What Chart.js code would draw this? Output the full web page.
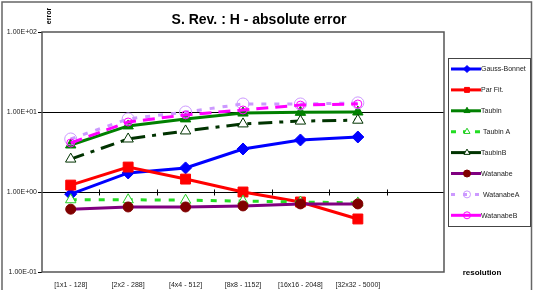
<!DOCTYPE html>
<html>
<head>
<meta charset="utf-8">
<script src="https://cdn.jsdelivr.net/npm/chart.js@4"></script>
<style>
  html, body { margin: 0; padding: 0; background: #fff; }
  #wrap { width: 535px; height: 290px; }
</style>
</head>
<body>
<div id="wrap"><canvas id="errChart" width="535" height="290"></canvas></div>
<script>
// categories (last one is an empty slot, as in the original sheet)
const resolutions = ['[1x1 - 128]', '[2x2 - 288]', '[4x4 - 512]', '[8x8 - 1152]', '[16x16 - 2048]', '[32x32 - 5000]', ''];

// absolute error per method
const gaussBonnet = [0.94, 1.73, 2.0, 3.45, 4.47, 4.87, null];
const parFit      = [1.22, 2.05, 1.45, 1.0, 0.75, 0.46, null];
const taubin      = [3.87, 6.7, 8.2, 9.7, 9.9, 10.0, null];
const taubinA     = [0.8, 0.8, 0.79, 0.77, 0.75, 0.73, null];
const taubinB     = [2.58, 4.6, 5.8, 7.1, 7.7, 7.9, null];
const watanabe    = [0.61, 0.65, 0.65, 0.67, 0.71, 0.71, null];
const watanabeA   = [4.6, 8.2, 10.0, 12.6, 12.6, 13.0, null];
const watanabeB   = [4.1, 7.5, 9.2, 10.6, 12.2, 12.6, null];

const yTicks = [0.1, 1, 10, 100];

function sci(v) {
  const e = Math.round(Math.log10(v));
  const m = v / Math.pow(10, e);
  const sign = e < 0 ? '-' : '+';
  return m.toFixed(2) + 'E' + sign + String(Math.abs(e)).padStart(2, '0');
}

const ctx = document.getElementById('errChart').getContext('2d');

const frame = {
  id: 'frame',
  beforeDatasetsDraw(chart) {
    const {ctx, chartArea: {left, top, right, bottom}, scales: {x, y}} = chart;
    ctx.save();
    // gridlines at 10 and 1
    ctx.strokeStyle = '#000';
    ctx.lineWidth = 1;
    [10, 1].forEach(v => {
      const py = Math.round(y.getPixelForValue(v)) + 0.5;
      ctx.beginPath();
      ctx.moveTo(left, py);
      ctx.lineTo(right, py);
      ctx.stroke();
    });
    // category tick marks on the x axis crossing (y = 1)
    const py1 = Math.round(y.getPixelForValue(1)) + 0.5;
    for (let i = 1; i < resolutions.length; i++) {
      const px = Math.round((x.getPixelForValue(i - 1) + x.getPixelForValue(i)) / 2) + 0.5;
      ctx.beginPath();
      ctx.moveTo(px, py1 - 3);
      ctx.lineTo(px, py1 + 3);
      ctx.stroke();
    }
    // y tick marks
    yTicks.forEach(v => {
      const py = Math.round(y.getPixelForValue(v)) + 0.5;
      ctx.beginPath();
      ctx.moveTo(left - 4, py);
      ctx.lineTo(left, py);
      ctx.stroke();
    });
    // plot area frame
    ctx.strokeStyle = '#555';
    ctx.lineWidth = 1.5;
    ctx.strokeRect(left, top, right - left, bottom - top);
    ctx.restore();
  },
  afterDraw(chart) {
    const {ctx} = chart;
    ctx.save();
    // outer border
    ctx.strokeStyle = '#666';
    ctx.lineWidth = 1.5;
    ctx.strokeRect(2, 2, 529.5, 292);
    // title
    ctx.fillStyle = '#000';
    ctx.textAlign = 'center';
    ctx.textBaseline = 'middle';
    ctx.font = 'bold 14px "Liberation Sans", Arial, sans-serif';
    ctx.fillText('S. Rev. : H - absolute error', 259, 20);
    // y axis title (rotated)
    ctx.save();
    ctx.translate(49, 16);
    ctx.rotate(-Math.PI / 2);
    ctx.font = 'bold 7px "Liberation Sans", Arial, sans-serif';
    ctx.fillText('error', 0, 0);
    ctx.restore();
    // x axis title
    ctx.font = 'bold 8px "Liberation Sans", Arial, sans-serif';
    ctx.fillText('resolution', 482, 273);
    // legend
    const lx = 448, ly = 58, lw = 82, lh = 168;
    ctx.fillStyle = '#fff';
    ctx.fillRect(lx, ly, lw, lh);
    ctx.strokeStyle = '#444';
    ctx.lineWidth = 1;
    ctx.strokeRect(lx + 0.5, ly + 0.5, lw, lh);
    chart.data.datasets.forEach((ds, i) => {
      const cy = 69 + i * 20.9;
      ctx.save();
      ctx.strokeStyle = ds.borderColor;
      ctx.lineWidth = 3;
      ctx.setLineDash(ds.legendDash || []);
      ctx.beginPath();
      ctx.moveTo(451, cy);
      ctx.lineTo(481, cy);
      ctx.stroke();
      ctx.restore();
      ctx.save();
      ctx.fillStyle = ds.pointBackgroundColor;
      ctx.strokeStyle = ds.pointBorderColor;
      ctx.lineWidth = 1;
      ctx.setLineDash([]);
      Chart.helpers.drawPoint(ctx, {
        pointStyle: ds.pointStyle,
        radius: Math.min(ds.pointRadius, 3.5),
        borderWidth: 1
      }, 467, cy);
      ctx.restore();
      ctx.fillStyle = '#222';
      ctx.textAlign = 'left';
      ctx.font = '7px "Liberation Sans", Arial, sans-serif';
      ctx.fillText(ds.label, ds.legendIndent ? 483 : 481, cy + 0.5);
    });
    ctx.restore();
  }
};

function series(label, data, color, opts) {
  return Object.assign({
    label: label,
    data: data,
    borderColor: color,
    backgroundColor: color,
    borderWidth: 3,
    pointRadius: 5,
    pointBorderWidth: 1,
    tension: 0,
    spanGaps: false,
    fill: false
  }, opts);
}

new Chart(ctx, {
  type: 'line',
  data: {
    labels: resolutions,
    datasets: [
      series('Gauss-Bonnet', gaussBonnet, '#0000ff', {pointStyle: 'rectRot', pointRadius: 6, pointBackgroundColor: '#0000ff', pointBorderColor: '#0000ff', order: 8}),
      series('Par Fit.', parFit, '#ff0000', {pointStyle: 'rect', pointRadius: 7, pointBackgroundColor: '#ff0000', pointBorderColor: '#ff0000', order: 7}),
      series('Taubin', taubin, '#008000', {pointStyle: 'triangle', pointRadius: 6, pointBackgroundColor: '#008000', pointBorderColor: '#008000', order: 6}),
      series('Taubin A', taubinA, '#22dd22', {pointStyle: 'triangle', pointRadius: 6, pointBackgroundColor: '#ffffff', pointBorderColor: '#22cc22', borderDash: [6, 8], legendDash: [5, 7], legendIndent: true, order: 5}),
      series('TaubinB', taubinB, '#003300', {pointStyle: 'triangle', pointRadius: 6, pointBackgroundColor: '#ffffff', pointBorderColor: '#003300', borderDash: [14, 7, 4, 7], order: 4}),
      series('Watanabe', watanabe, '#800080', {pointStyle: 'circle', pointRadius: 5, pointBackgroundColor: '#800000', pointBorderColor: '#800000', order: 3}),
      series('WatanabeA', watanabeA, '#cc99ff', {pointStyle: 'circle', pointRadius: 6, pointBackgroundColor: 'rgba(255,255,255,0)', pointBorderColor: '#cc99ff', borderDash: [5, 8], legendDash: [4, 8], legendIndent: true, order: 2}),
      series('WatanabeB', watanabeB, '#ff00ff', {pointStyle: 'circle', pointRadius: 4, pointBackgroundColor: 'rgba(255,255,255,0)', pointBorderColor: '#ff00ff', borderDash: [12, 7], order: 1})
    ]
  },
  options: {
    responsive: false,
    animation: false,
    events: [],
    layout: {
      padding: {left: 0, right: 91, top: 32, bottom: 0}
    },
    plugins: {
      legend: {display: false},
      title: {display: false},
      tooltip: {enabled: false}
    },
    scales: {
      x: {
        type: 'category',
        offset: true,
        grid: {display: false, drawTicks: false},
        border: {display: false},
        afterFit(scale) { scale.height = 18; },
        ticks: {
          color: '#222',
          maxRotation: 0,
          minRotation: 0,
          autoSkip: false,
          padding: 9,
          font: {size: 7, family: '"Liberation Sans", Arial, sans-serif'}
        }
      },
      y: {
        type: 'logarithmic',
        min: 0.1,
        max: 100,
        grid: {display: false, drawTicks: false},
        border: {display: false},
        afterBuildTicks(scale) {
          scale.ticks = yTicks.map(v => ({value: v}));
        },
        afterFit(scale) { scale.width = 42; },
        ticks: {
          color: '#222',
          padding: 5,
          font: {size: 7, family: '"Liberation Sans", Arial, sans-serif'},
          callback: v => sci(v)
        }
      }
    }
  },
  plugins: [frame]
});
</script>
</body>
</html>
